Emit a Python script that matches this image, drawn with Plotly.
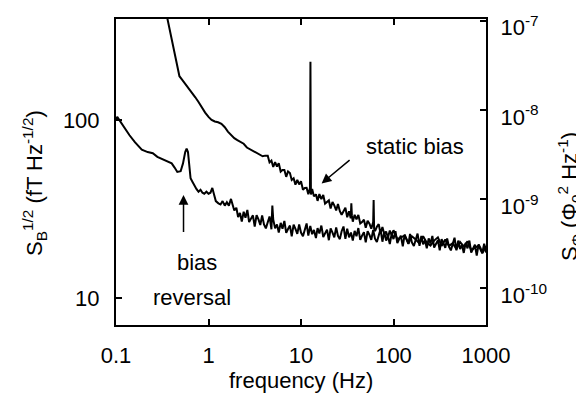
import numpy as np
import plotly.graph_objects as go

# ---- data (frequency in Hz, S_B^1/2 in fT/Hz^1/2) ----
reversal_freq = [
    0.100, 0.103, 0.107, 0.12, 0.14, 0.16, 0.19, 0.22, 0.25, 0.28, 0.32, 0.36, 0.40,
    0.43, 0.46, 0.50, 0.53, 0.56, 0.58, 0.60, 0.62, 0.64, 0.67, 0.70, 0.74, 0.78,
    0.82, 0.86, 0.90, 0.95, 1.00, 1.05, 1.10, 1.15, 1.20, 1.28, 1.35, 1.42, 1.50,
    1.58, 1.66, 1.75, 1.82, 1.90,
    2.00, 2.09, 2.19, 2.29, 2.40, 2.51, 2.63, 2.75, 2.88, 3.02, 3.16, 3.31, 3.47,
    3.63, 3.80, 3.98, 4.17, 4.37, 4.57, 4.79, 4.90, 5.01, 5.25, 5.50, 5.75, 6.03,
    6.31, 6.61, 6.92, 7.24, 7.59, 7.94, 8.32, 8.71, 9.12, 9.55, 10.0, 10.5, 11.0,
    11.5, 12.0, 12.6, 13.2, 13.8, 14.5, 15.1, 15.8, 16.6, 17.4, 18.2, 19.1, 20.0,
    20.9, 21.9, 22.9, 24.0, 25.1, 26.3, 27.5, 28.8, 30.2, 31.6, 33.1, 34.7, 36.3,
    38.0, 39.8, 41.7, 43.7, 45.7, 47.9, 50.1, 52.5, 55.0, 57.5, 60.3, 63.1, 66.1,
    69.2, 72.4, 75.9, 79.4, 83.2, 87.1, 91.2, 95.5, 100, 105, 110, 115, 120, 126,
    132, 138, 145, 151, 158, 166, 174, 182, 191, 200, 209, 219, 229, 240, 251, 263,
    275, 288, 302, 316, 331, 347, 363, 380, 398, 417, 437, 457, 479, 501, 525, 550,
    575, 603, 631, 661, 692, 724, 759, 794, 832, 871, 912, 955, 1000,
]
reversal_val = [
    100, 104, 101, 92, 82, 75, 68, 66, 65, 62, 60, 58, 57,
    54, 51, 51.5, 57, 66, 69, 66, 55, 47, 45, 43, 41, 39.5,
    40.5, 39, 38.5, 39.5, 38.5, 39, 41.5, 38, 35, 34, 33.5, 35, 33,
    34.5, 33, 36, 33, 31,
    32.1, 28.5, 30.0, 26.9, 30.5, 28.2, 31.2, 26.7, 27.9, 29.1, 25.2, 29.2, 27.6,
    25.7, 29.1, 25.9, 24.6, 27.1, 28.7, 24.3, 33.0, 27.6, 24.6, 25.9, 23.3, 26.4,
    24.5, 27.1, 23.2, 24.4, 25.5, 22.2, 25.8, 24.4, 22.9, 25.9, 23.3, 22.2, 24.6,
    26.2, 22.4, 25.4, 22.8, 24.1, 21.7, 24.7, 23.0, 25.5, 22.0, 23.1, 24.2, 21.1,
    24.6, 23.3, 21.9, 24.9, 22.3, 21.4, 23.7, 25.2, 21.5, 24.5, 21.9, 23.3, 21.0,
    23.8, 22.2, 24.7, 21.2, 22.4, 23.4, 20.5, 23.7, 22.6, 21.2, 24.1, 21.5, 20.6,
    22.8, 24.3, 20.7, 23.5, 21.0, 22.3, 20.1, 22.9, 21.4, 23.7, 20.3, 21.3, 22.4, 19.5,
    22.7, 21.5, 20.1, 22.9, 20.5, 19.6, 21.6, 23.0, 19.6, 22.3, 20.0, 21.1, 19.0, 21.6, 20.2, 22.3,
    19.2, 20.2, 21.1, 18.5, 21.4, 20.3, 19.1, 21.6, 19.4, 18.5, 20.5, 21.8, 18.5, 21.0, 18.8, 19.9,
    17.9, 20.4, 19.0, 21.0, 18.0, 19.0, 19.9, 17.3, 20.0, 19.1, 17.9, 20.2, 18.0,
]

static_freq = [
    0.34, 0.36, 0.40, 0.44, 0.485, 0.52, 0.56, 0.61, 0.66, 0.72, 0.78, 0.85, 0.92,
    1.00, 1.08, 1.17, 1.27, 1.38, 1.50, 1.62, 1.75, 1.90, 2.05, 2.20, 2.40, 2.60,
    2.80, 3.00, 3.20, 3.40, 3.60, 3.85, 4.10,
    4.37, 4.57, 4.79, 5.01, 5.25, 5.50, 5.75, 6.03, 6.31, 6.61, 6.92, 7.24, 7.59,
    7.94, 8.32, 8.71, 9.12, 9.55, 10.0, 10.5, 11.0, 11.5, 12.0, 12.5, 12.65, 12.8,
    13.2, 13.8, 14.5, 15.1, 15.8, 16.6, 17.4, 18.2, 19.1, 20.0, 20.9, 21.9, 22.9,
    24.0, 25.1, 26.3, 27.5, 28.8, 30.2, 31.6, 33.1, 34.5, 35.0, 35.5, 36.3, 38.0,
    39.8, 41.7, 43.7, 45.7, 47.9, 50.1, 52.5, 55.0, 57.5, 60.3, 61.0, 61.7, 63.1,
    66.1, 69.2, 72.4, 75.9, 79.4, 83.2, 87.1, 91.2, 95.5, 100, 110, 120, 132, 145,
    158, 174, 191, 209, 229, 251, 275, 302, 331, 363, 398, 437, 479, 525, 575, 631,
    692, 759, 832, 912, 1000,
]
static_val = [
    426, 369, 290, 220, 176, 168, 160, 150, 143, 134, 126, 117, 110,
    104, 100, 98, 97, 95, 91, 86, 82, 79, 77, 75.5, 73.5, 70,
    68.5, 67.5, 66, 64.5, 64, 62.5, 63,
    62.9, 57.7, 59.1, 54.4, 58.0, 54.7, 57.1, 51.3, 52.4, 52.4, 47.9, 51.4, 50.3,
    46.0, 47.0, 43.3, 46.0, 43.4, 45.2, 40.5, 41.5, 41.6, 38.2, 41.4, 212, 38.1,
    41.0, 37.2, 38.2, 35.1, 38.3, 35.9, 37.9, 33.9, 34.5, 35.3, 31.8, 34.6, 33.1,
    31.0, 33.7, 30.7, 29.3, 31.0, 32.1, 28.4, 30.7, 28.0, 34.0, 29.0, 26.8, 29.3,
    27.6, 29.3, 26.2, 26.7, 27.5, 24.8, 27.1, 26.1, 24.5, 26.7, 35.5, 24.5, 23.7,
    25.1, 26.0, 23.0, 25.0, 22.9, 23.6, 21.8, 23.9, 22.6, 24.0, 21.4, 21.8, 22.4, 20.2,
    22.2, 21.3, 20.2, 22.2, 20.4, 19.7, 21.0, 21.9, 19.6, 21.3, 19.6, 20.3, 18.8, 20.6, 19.5, 20.8,
    18.6, 19.1, 19.7, 17.8, 19.6,
]

x_ticks = [0.1, 1, 10, 100, 1000]
x_ticktext = ["0.1", "1", "10", "100", "1000"]
yl_ticks = [10, 100]
yl_ticktext = ["10", "100"]
yr_ticks = [1e-10, 1e-9, 1e-8, 1e-7]
yr_ticktext = ["10<sup>-10</sup>", "10<sup>-9</sup>", "10<sup>-8</sup>", "10<sup>-7</sup>"]

FONT = "Liberation Sans, Arial, Helvetica, sans-serif"
FS = 22

fig = go.Figure()
fig.add_trace(go.Scatter(x=reversal_freq, y=reversal_val, mode="lines",
                         line=dict(color="black", width=2), showlegend=False,
                         name="bias reversal"))
fig.add_trace(go.Scatter(x=static_freq, y=static_val, mode="lines",
                         line=dict(color="black", width=2), showlegend=False,
                         name="static bias"))

axis_common = dict(showgrid=False, zeroline=False, showline=True, linecolor="black",
                   linewidth=2, ticks="inside", ticklen=6, tickwidth=2, tickcolor="black",
                   automargin=False, ticklabeloverflow="allow",
                   tickfont=dict(family=FONT, size=FS, color="black"))

# the page body adds an 8 px offset, so the figure is 8 px smaller and shifted
fig.update_layout(
    width=576, height=399,
    margin=dict(l=108, r=98, t=11, b=82),
    paper_bgcolor="white", plot_bgcolor="white",
    xaxis=dict(type="log", range=[-1.0, 3.0], tickvals=x_ticks, ticktext=x_ticktext,
               mirror="ticks", ticklabelstandoff=10, **axis_common),
    yaxis=dict(type="log", range=[0.848, 2.567], tickvals=yl_ticks, ticktext=yl_ticktext,
               mirror=False, ticklabelstandoff=10, **axis_common),
    yaxis2=dict(type="log", range=[-10.41, -6.98], overlaying="y", side="right",
                tickvals=yr_ticks, ticktext=yr_ticktext, ticklabelstandoff=8,
                ticklabelshift=7, **axis_common),
)

# invisible anchor so the right axis is created
fig.add_trace(go.Scatter(x=[1], y=[1e-9], yaxis="y2", mode="markers",
                         marker=dict(opacity=0), showlegend=False, hoverinfo="skip"))

txt = dict(family=FONT, size=FS, color="black")
anns = [
    dict(text="frequency (Hz)", x=0.5, y=-0.182, xref="paper", yref="paper",
         showarrow=False, xanchor="center", yanchor="middle", font=txt),
    dict(text="S<sub>B</sub><sup>1/2</sup> (fT Hz<sup>-1/2</sup>)", x=-0.2216, y=0.464,
         xref="paper", yref="paper", showarrow=False, textangle=-90,
         xanchor="center", yanchor="middle", font=txt),
    dict(text="S<sub>Φ</sub> (Φ<sub>0</sub><sup>2</sup> Hz<sup>-1</sup>)", x=1.227, y=0.4216,
         xref="paper", yref="paper", showarrow=False, textangle=-90,
         xanchor="center", yanchor="middle", font=txt),
    dict(text="static bias", x=0.808, y=0.582, xref="paper", yref="paper",
         showarrow=False, xanchor="center", yanchor="middle", font=txt),
    dict(text="bias", x=0.219, y=0.203, xref="paper", yref="paper",
         showarrow=False, xanchor="center", yanchor="middle", font=txt),
    dict(text="reversal", x=0.205, y=0.0915, xref="paper", yref="paper",
         showarrow=False, xanchor="center", yanchor="middle", font=txt),
    dict(text=" ", x=np.log10(16.7), y=np.log10(44), xref="x", yref="y",
         showarrow=True, ax=30, ay=-25, arrowhead=2, arrowsize=1.3, arrowwidth=1.5,
         arrowcolor="black", font=dict(size=2)),
    dict(text=" ", x=np.log10(0.537), y=np.log10(37.9), xref="x", yref="y",
         showarrow=True, ax=0, ay=40, arrowhead=2, arrowsize=1.3, arrowwidth=1.5,
         arrowcolor="black", font=dict(size=2)),
]
fig.update_layout(annotations=anns)

fig.write_html("out.html")
